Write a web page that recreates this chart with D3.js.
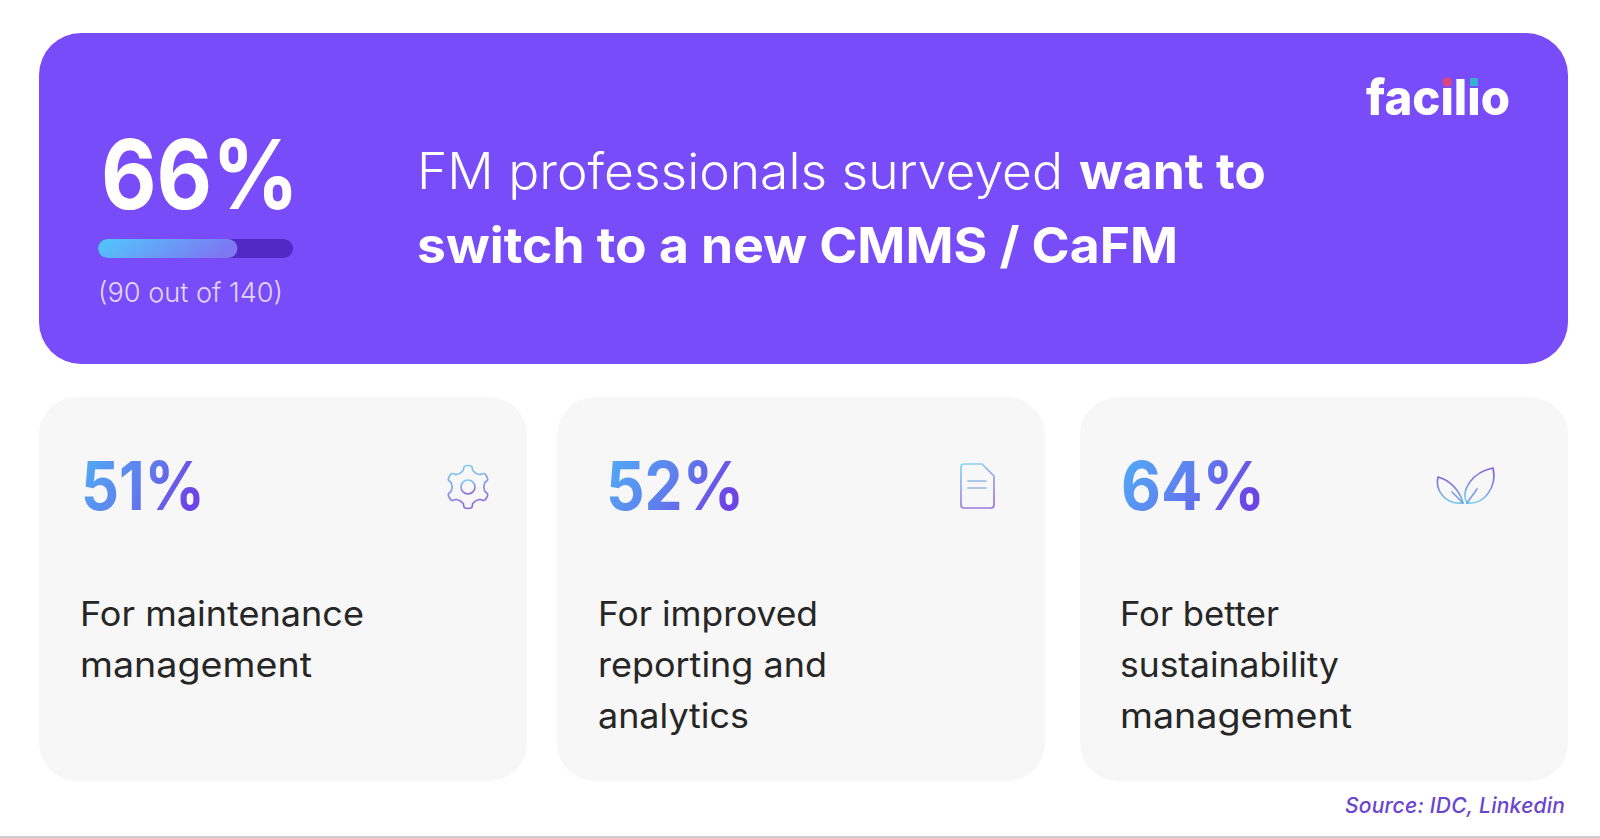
<!DOCTYPE html>
<html><head><meta charset="utf-8">
<style>html,body{margin:0;padding:0;background:#fff;overflow:hidden}svg{display:block}text{font-family:Inter,"Noto Sans",sans-serif}</style>
<script src="https://cdn.jsdelivr.net/npm/d3@7"></script></head>
<body><svg id="c" width="1600" height="838"></svg>
<script>
const headlineValue = 66;
const progressValue = 71.5;
const progressCaption = "(90 out of 140)";
const headlineLight = "FM professionals surveyed";
const headlineBoldA = "want to";
const headlineBoldB = "switch to a new CMMS / CaFM";
const brand = "facilio";
const statValues = [51, 52, 64];
const statLines = [["For maintenance","management"],["For improved","reporting and","analytics"],["For better","sustainability","management"]];
const statIcons = ["gear","doc","leaf"];
const source = "Source: IDC, Linkedin";

// layout widths (px) that make the substitute font occupy the same room as the original
const numberWidths=[124,138,144], lineWidths=[[284,232],[220,229,151],[159,219,232]];

const svg = d3.select("#c");
const defs = svg.append("defs");
function grad(id,x1,y1,x2,y2,stops){
  const g=defs.append("linearGradient").attr("id",id).attr("x1",x1).attr("y1",y1).attr("x2",x2).attr("y2",y2);
  stops.forEach(([o,c])=>g.append("stop").attr("offset",o).attr("stop-color",c));
}
grad("num","0","0","1","0.35",[[0,"#4fb0f6"],[0.55,"#5f80ee"],[1,"#6d45e6"]]);
grad("bar","0","0","1","0.2",[[0,"#4fc9fc"],[1,"#7d78f2"]]);
grad("iconDown","0","0","0.2","1",[[0,"#68d0f5"],[1,"#7b55d6"]]);
grad("iconDoc","0","0","0.3","1",[[0,"#74d2f2"],[1,"#8f62d6"]]);
grad("iconUp","0.2","0","0","1",[[0,"#7048d4"],[1,"#62d4ee"]]);

function fit(sel,w,adj){return sel.attr("textLength",w).attr("lengthAdjust",adj||"spacingAndGlyphs");}

const BLUE="#794cfa";
svg.append("rect").attr("x",39).attr("y",33).attr("width",1529).attr("height",331).attr("rx",42).attr("fill",BLUE);

// headline number
fit(svg.append("text").attr("x",101).attr("y",209).attr("font-size",96).attr("font-weight",700).attr("fill","#fff").text(headlineValue+"%"),198);
// progress
const px=d3.scaleLinear().domain([0,100]).range([98,293]);
svg.append("rect").attr("x",px(0)).attr("y",239).attr("width",px(100)-px(0)).attr("height",19).attr("rx",9.5).attr("fill","#5229c4");
svg.append("rect").attr("x",px(0)).attr("y",239).attr("width",px(progressValue)-px(0)).attr("height",19).attr("rx",9.5).attr("fill","url(#bar)");
fit(svg.append("text").attr("x",98).attr("y",302).attr("font-size",27).attr("font-weight",300).attr("fill","#e2d6fc").text(progressCaption),185);

// headline text
fit(svg.append("text").attr("x",417).attr("y",189).attr("font-size",50).attr("font-weight",300).attr("fill","#fff").text(headlineLight),646);
fit(svg.append("text").attr("x",1079).attr("y",189).attr("font-size",50).attr("font-weight",700).attr("fill","#fff").text(headlineBoldA),187);
fit(svg.append("text").attr("x",417).attr("y",263).attr("font-size",50).attr("font-weight",700).attr("fill","#fff").text(headlineBoldB),761);

// logo: the dots of the two i's are recoloured, located from the glyph boxes
const logo=fit(svg.append("text").attr("x",1366).attr("y",115).attr("font-size",50).attr("font-weight",800).attr("fill","#fff").text(brand),144);
const node=logo.node();
[3,5].forEach((ci,k)=>{
  const e=node.getExtentOfChar(ci), cx=e.x+e.width/2;
  svg.append("rect").attr("x",cx-6).attr("y",73).attr("width",12).attr("height",14).attr("fill",BLUE);
  if(k===0) svg.append("circle").attr("cx",cx).attr("cy",82).attr("r",4.8).attr("fill","#d9457f");
  else svg.append("rect").attr("x",cx-4).attr("y",78).attr("width",8).attr("height",8).attr("fill","#35b0d2");
});

// cards
const cardX=[39,557,1080], cardW=488, numX=[81,606,1121], labX=[80,598,1120], iconC=[[468,487],[977,487],[1466,486]];
const cards=svg.selectAll("g.card").data(statValues).join("g").attr("class","card");
cards.append("rect").attr("x",(d,i)=>cardX[i]).attr("y",397).attr("width",cardW).attr("height",384).attr("rx",38).attr("fill","#f7f7f7");
cards.append("text").attr("x",(d,i)=>numX[i]).attr("y",510).attr("font-size",67).attr("font-weight",700).attr("fill","url(#num)")
  .attr("textLength",(d,i)=>numberWidths[i]).attr("lengthAdjust","spacingAndGlyphs").text(d=>d+"%");
cards.each(function(d,i){
  const g=d3.select(this);
  statLines[i].forEach((s,k)=>{
    fit(g.append("text").attr("font-size",34).attr("font-weight",400).attr("fill","#262626")
      .attr("x",labX[i]).attr("y",626+k*51).text(s),lineWidths[i][k]);
  });
});

// icons
const ico=svg.append("g").attr("fill","none").attr("stroke-width",1.7).attr("stroke-opacity",0.85).attr("stroke-linejoin","round").attr("stroke-linecap","round");
statIcons.forEach((kind,i)=>{
  const [cx,cy]=iconC[i], g=ico.append("g").attr("transform",`translate(${cx},${cy})`);
  if(kind==="gear"){
    const pts=[];
    for(let k=0;k<6;k++){
      const a=Math.PI/3*k-Math.PI/2;
      [[-0.30,17],[-0.17,21],[0.17,21],[0.30,17]].forEach(([da,r])=>pts.push([Math.cos(a+da)*r,Math.sin(a+da)*r]));
    }
    g.append("path").attr("d",d3.line().curve(d3.curveCatmullRomClosed.alpha(0.6))(pts)).attr("stroke","url(#iconDown)");
    g.append("circle").attr("r",7).attr("stroke","url(#iconDown)");
  } else if(kind==="doc"){
    g.append("path").attr("d","M-13,-23H5L17,-11V18Q17,21 14,21H-13Q-16,21 -16,18V-20Q-16,-23 -13,-23Z").attr("stroke","url(#iconDoc)");
    g.append("path").attr("d","M-9,-6H9M-9,1H9").attr("stroke","#86a9e2");
  } else {
    g.append("path").attr("d","M-3,17C-6,5 -16,-6 -28,-9C-31,3 -22,19 -3,17").attr("stroke","url(#iconUp)");
    g.append("path").attr("d","M1,17C-6,5 6,-14 27,-18C31,-1 20,19 1,17").attr("stroke","url(#iconUp)");
    g.append("path").attr("d","M-14,6L-3,17M1,17L11,3").attr("stroke","#6a8fdc");
  }
});

fit(svg.append("text").attr("x",1345).attr("y",813).attr("font-size",21).attr("font-style","italic").attr("font-weight",500).attr("fill","#6a45cf").text(source),220,"spacing");
svg.append("rect").attr("x",0).attr("y",836).attr("width",1600).attr("height",2).attr("fill","#cfcfcf");
</script></body></html>
